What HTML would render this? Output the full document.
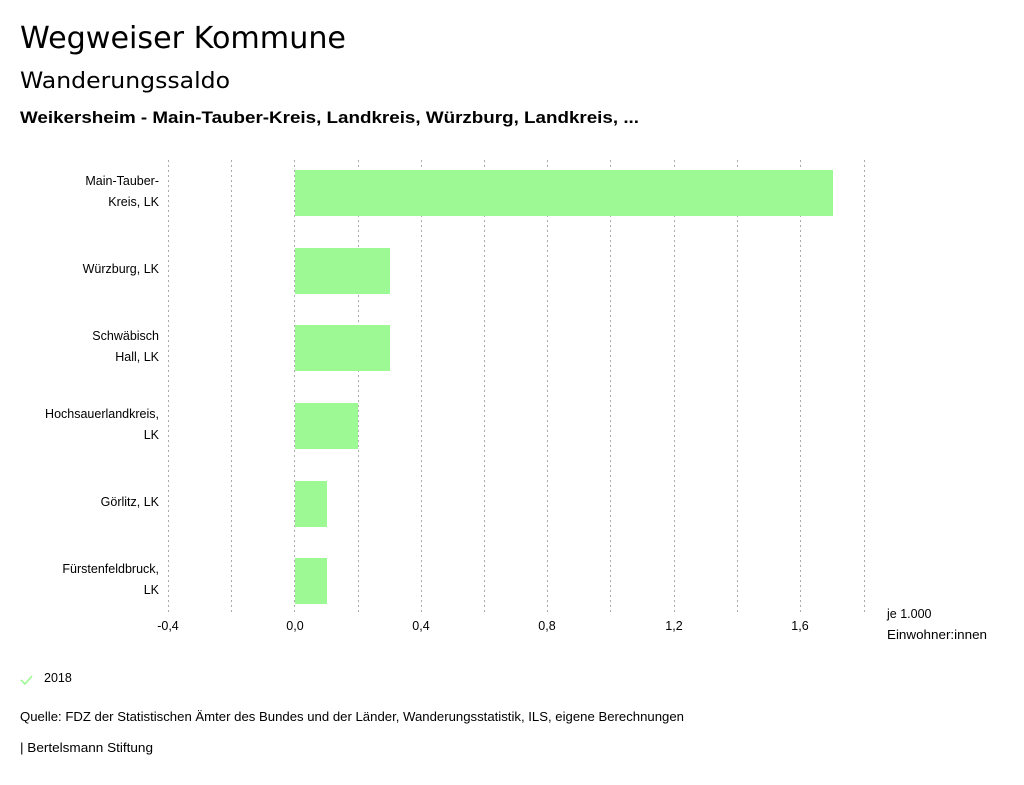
<!DOCTYPE html>
<html><head><meta charset="utf-8"><style>
body{margin:0;width:1024px;height:780px;background:#fff;font-family:"Liberation Sans","DejaVu Sans",sans-serif;color:#000;overflow:hidden}
</style></head><body>
<svg width="1024" height="780" xmlns="http://www.w3.org/2000/svg" font-family="Liberation Sans, DejaVu Sans, sans-serif">
<text x="20" y="48" font-size="30" font-family="DejaVu Sans, sans-serif" textLength="326" lengthAdjust="spacingAndGlyphs">Wegweiser Kommune</text>
<text x="20" y="88" font-size="22" font-family="DejaVu Sans, sans-serif" textLength="210" lengthAdjust="spacingAndGlyphs">Wanderungssaldo</text>
<text x="20" y="123" font-size="17" font-weight="bold" textLength="619" lengthAdjust="spacingAndGlyphs">Weikersheim - Main-Tauber-Kreis, Landkreis, Würzburg, Landkreis, ...</text>
<g stroke="#aaa" stroke-width="1" stroke-dasharray="2,3">
<line x1="168.5" y1="160" x2="168.5" y2="612"/><line x1="231.5" y1="160" x2="231.5" y2="612"/>
<line x1="294.5" y1="160" x2="294.5" y2="612"/><line x1="358.5" y1="160" x2="358.5" y2="612"/>
<line x1="421.5" y1="160" x2="421.5" y2="612"/><line x1="484.5" y1="160" x2="484.5" y2="612"/>
<line x1="547.5" y1="160" x2="547.5" y2="612"/><line x1="610.5" y1="160" x2="610.5" y2="612"/>
<line x1="674.5" y1="160" x2="674.5" y2="612"/><line x1="737.5" y1="160" x2="737.5" y2="612"/>
<line x1="800.5" y1="160" x2="800.5" y2="612"/><line x1="864.5" y1="160" x2="864.5" y2="612"/>
</g>
<g fill="#9cf993">
<rect x="295" y="170" width="538" height="46"/>
<rect x="295" y="248" width="95" height="46"/>
<rect x="295" y="325" width="95" height="46"/>
<rect x="295" y="403" width="63" height="46"/>
<rect x="295" y="481" width="32" height="46"/>
<rect x="295" y="558" width="32" height="46"/>
</g>
<g font-size="12.5" text-anchor="end">
<text x="159" y="185">Main-Tauber-</text><text x="159" y="206">Kreis, LK</text>
<text x="159" y="273">Würzburg, LK</text>
<text x="159" y="340">Schwäbisch</text><text x="159" y="361">Hall, LK</text>
<text x="159" y="418">Hochsauerlandkreis,</text><text x="159" y="439">LK</text>
<text x="159" y="506">Görlitz, LK</text>
<text x="159" y="573">Fürstenfeldbruck,</text><text x="159" y="594">LK</text>
</g>
<g font-size="12.5" text-anchor="middle">
<text x="168" y="630">-0,4</text><text x="295" y="630">0,0</text><text x="421" y="630">0,4</text>
<text x="547" y="630">0,8</text><text x="674" y="630">1,2</text><text x="800" y="630">1,6</text>
</g>
<text x="887" y="618" font-size="12.5">je 1.000</text>
<text x="887" y="639" font-size="12.5" textLength="100" lengthAdjust="spacingAndGlyphs">Einwohner:innen</text>
<polyline points="21,680 25,684 32,676" fill="none" stroke="#9cf993" stroke-width="1.6"/>
<text x="44" y="682" font-size="12.5">2018</text>
<text x="20" y="721" font-size="12.5" textLength="664" lengthAdjust="spacingAndGlyphs">Quelle: FDZ der Statistischen Ämter des Bundes und der Länder, Wanderungsstatistik, ILS, eigene Berechnungen</text>
<text x="20" y="752" font-size="12.5" textLength="133" lengthAdjust="spacingAndGlyphs">| Bertelsmann Stiftung</text>
</svg>
</body></html>
